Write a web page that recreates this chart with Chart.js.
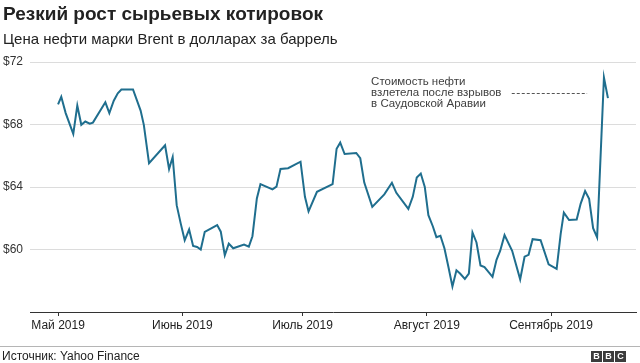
<!DOCTYPE html>
<html lang="ru">
<head>
<meta charset="utf-8">
<script src="https://cdn.jsdelivr.net/npm/chart.js@4"></script>
<style>
  html, body { margin: 0; padding: 0; background: #fff; }
  body { width: 640px; height: 363px; position: relative; overflow: hidden; font-family: "Liberation Sans", Arial, Helvetica, sans-serif; color: #222; }
  #chartBox { position: absolute; left: 0; top: 0; width: 640px; height: 363px; }
  .title { position: absolute; left: 3px; top: 4px; font-size: 19px; line-height: 20px; font-weight: bold; white-space: nowrap; }
  .subtitle { position: absolute; left: 3px; top: 31px; font-size: 15px; line-height: 15px; white-space: nowrap; }
  .footer-line { position: absolute; left: 0; width: 640px; top: 346px; border-top: 1px solid #b5b5b5; }
  .source { position: absolute; left: 2px; top: 350px; font-size: 12px; line-height: 12px; white-space: nowrap; }
  .bbc { position: absolute; right: 14px; top: 351px; display: flex; gap: 1px; }
  .bbc span { width: 11px; height: 11px; background: #3c3c3c; color: #fff; font-size: 9px; line-height: 11px; font-weight: bold; text-align: center; }
</style>
</head>
<body>
<div id="chartBox"><canvas id="oilChart" width="640" height="363"></canvas></div>
<div class="title">Резкий рост сырьевых котировок</div>
<div class="subtitle">Цена нефти марки Brent в долларах за баррель</div>
<div class="footer-line"></div>
<div class="source">Источник: Yahoo Finance</div>
<div class="bbc"><span>B</span><span>B</span><span>C</span></div>

<script>
// month starts, in days since 1 May 2019
const monthTicks = [0, 31, 61, 92, 123];
const monthLabels = ["Май 2019", "Июнь 2019", "Июль 2019", "Август 2019", "Сентябрь 2019"];
const priceTicks = [60, 64, 68, 72];

// days since 1 May 2019
const days = [
  0, 0.8, 1.9, 3.8, 4.8, 5.8, 6.8, 7.9, 8.7, 11.8,
  12.8, 13.9, 14.9, 15.8, 18.7, 20.6, 21.4, 22.7, 26.7, 27.7,
  28.6, 29.6, 30.6, 31.6, 32.7, 33.7, 34.7, 35.6, 36.6, 39.7,
  40.6, 41.6, 42.6, 43.7, 46.4, 47.6, 48.5, 49.6, 50.5, 53.5,
  54.5, 55.5, 57.4, 60.5, 61.6, 62.5, 64.6, 68.5, 69.5, 70.4,
  71.5, 74.4, 75.4, 76.4, 78.4, 81.4, 83.3, 84.4, 87.4, 88.5,
  89.5, 90.5, 91.5, 92.4, 93.5, 94.4, 95.4, 96.4, 97.4, 98.4,
  99.4, 100.3, 101.5, 102.5, 103.4, 104.4, 105.4, 106.4, 108.4, 109.4,
  110.3, 111.4, 113.3, 115.3, 116.4, 117.4, 118.4, 120.4, 122.4, 124.4,
  125.4, 126.2, 127.5, 129.4, 130.4, 131.5, 132.5, 133.5, 134.5, 136.2,
  137.2
];
// Brent, USD per barrel
const prices = [
  69.29, 69.77, 68.73, 67.40, 69.21, 67.98, 68.19, 68.05, 68.12, 69.42,
  68.73, 69.52, 70.00, 70.24, 70.24, 68.89, 67.98, 65.52, 66.67, 65.15,
  65.92, 62.84, 61.67, 60.59, 61.28, 60.23, 60.16, 60.00, 61.13, 61.56,
  61.14, 59.63, 60.38, 60.08, 60.32, 60.18, 60.85, 63.27, 64.18, 63.85,
  64.02, 65.15, 65.20, 65.62, 63.37, 62.44, 63.69, 64.18, 66.45, 66.84,
  66.11, 66.18, 65.84, 64.28, 62.73, 63.53, 64.27, 63.63, 62.60, 63.37,
  64.61, 64.86, 64.01, 62.20, 61.49, 60.79, 60.88, 60.08, 58.88, 57.64,
  58.67, 58.46, 58.12, 58.46, 61.09, 60.45, 58.98, 58.87, 58.25, 59.34,
  59.91, 60.92, 59.92, 58.09, 59.54, 59.66, 60.66, 60.59, 59.05, 58.76,
  60.98, 62.36, 61.89, 61.92, 62.94, 63.74, 63.25, 61.36, 60.77, 71.01,
  69.69
];

const noteLines = ["Стоимость нефти", "взлетела после взрывов", "в Саудовской Аравии"];
const note = { textDay: 78.1, price: 70.0, dashFrom: 113.2, dashTo: 132.0 };

const FONT = '"Liberation Sans", Arial, Helvetica, sans-serif';

const notePlugin = {
  id: "note",
  afterDatasetsDraw(chart) {
    const ctx = chart.ctx;
    const xs = chart.scales.x, ys = chart.scales.y;
    const yMid = ys.getPixelForValue(note.price);
    ctx.save();
    ctx.font = "11.5px " + FONT;
    ctx.fillStyle = "#404040";
    ctx.textBaseline = "middle";
    ctx.textAlign = "left";
    noteLines.forEach((t, i) => ctx.fillText(t, xs.getPixelForValue(note.textDay), yMid + (i - 1) * 11));
    ctx.strokeStyle = "#555";
    ctx.lineWidth = 1;
    ctx.setLineDash([3, 2]);
    ctx.beginPath();
    ctx.moveTo(xs.getPixelForValue(note.dashFrom), Math.round(yMid) + 0.5);
    ctx.lineTo(xs.getPixelForValue(note.dashTo), Math.round(yMid) + 0.5);
    ctx.stroke();
    ctx.restore();
  }
};

new Chart(document.getElementById("oilChart"), {
  type: "line",
  data: {
    datasets: [{
      data: days.map((d, i) => ({ x: d, y: prices[i] })),
      borderColor: "#1f6e8e",
      borderWidth: 2,
      pointRadius: 0,
      tension: 0,
      fill: false
    }]
  },
  options: {
    responsive: false,
    animation: false,
    layout: { padding: { left: 3, right: 4, top: 62, bottom: 30 } },
    plugins: { legend: { display: false }, tooltip: { enabled: false } },
    scales: {
      x: {
        type: "linear",
        min: -7,
        max: 144.2,
        afterBuildTicks: axis => { axis.ticks = monthTicks.map(v => ({ value: v })); },
        afterFit: axis => { axis.height = 21; },
        grid: { drawOnChartArea: false, drawTicks: true, tickLength: 4, color: "#333" },
        border: { display: true, color: "#333", width: 1 },
        ticks: {
          autoSkip: false, maxRotation: 0, padding: 2, color: "#222",
          font: { family: FONT, size: 12 },
          callback: v => monthLabels[monthTicks.indexOf(v)]
        }
      },
      y: {
        min: 56,
        max: 72,
        afterBuildTicks: axis => { axis.ticks = priceTicks.map(v => ({ value: v })); },
        afterFit: axis => { axis.width = 27; },
        grid: { color: "#dcdcdc", drawTicks: false, lineWidth: 1 },
        border: { display: false },
        ticks: {
          crossAlign: "far", padding: 0, color: "#333",
          font: { family: FONT, size: 12 },
          callback: v => "$" + v
        }
      }
    }
  },
  plugins: [notePlugin]
});
</script>
</body>
</html>
